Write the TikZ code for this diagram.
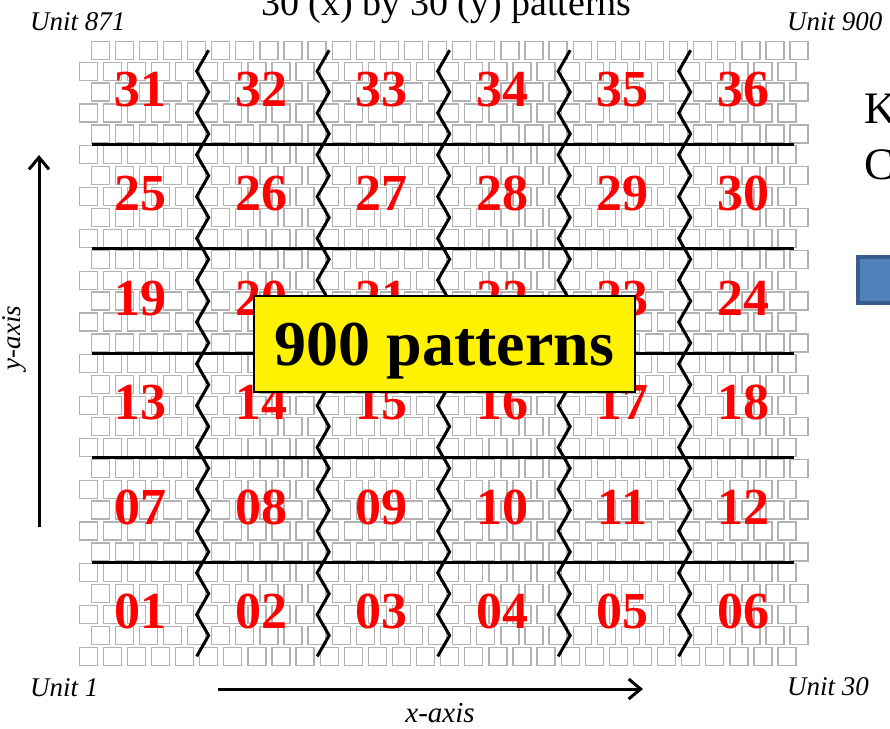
\documentclass[tikz,border=0pt]{standalone}
\usepackage{fontspec}
\setmainfont{Liberation Serif}
\usetikzlibrary{arrows.meta,positioning}
\definecolor{bluefill}{HTML}{4F81BD}
\definecolor{blueedge}{HTML}{385D8A}

\begin{document}
\begin{tikzpicture}[x=1pt, y=-1pt,
    cell/.style={draw=black!30, line width=1.3pt},
    cut/.style={line width=3pt, line join=miter},
    axis/.style={line width=3pt, -{Straight Barb[length=12pt, width=20pt]}},
    blocknum/.style={text=red, font=\fontsize{52}{52}\selectfont\bfseries, inner sep=0pt},
    unit/.style={font=\fontsize{27}{27}\selectfont\itshape, inner sep=0pt, anchor=base west},
    bigtext/.style={font=\fontsize{#1}{#1}\selectfont, inner sep=0pt, anchor=base west},
    total/.style={draw, line width=2pt, fill=yellow, minimum width=381pt, minimum height=96pt,
        text height=44pt, text depth=0pt, font=\fontsize{64}{64}\selectfont\bfseries}]
    \path[fill=white, use as bounding box] (0,0) rectangle (890,728);

    % 30 x 30 staggered patterns
    \foreach \r in {1,...,30} {
        \pgfmathsetmacro{\cy}{656.4-(\r-1)*20.9}
        \pgfmathsetmacro{\sh}{ifthenelse(mod(\r,2)==0,12,0)}
        \foreach \c in {1,...,30} {
            \pgfmathsetmacro{\cx}{88.2+(\c-1)*24.1+\sh}
            \draw[cell] (\cx-9,\cy-9) rectangle ++(18,18);
        }
    }

    % block borders
    \foreach \m in {1,...,5}
        \draw[cut] (92,{656.4-(5*\m-0.5)*20.9}) -- (794,{656.4-(5*\m-0.5)*20.9});
    \foreach \k in {1,...,5}
        \draw[cut] ({100.25+(5*\k-1)*24.1+12},50.2)
            \foreach \r in {29,...,1} { -- ({100.25+(5*\k-1)*24.1+12*(1-mod(\r,2))},{656.4-(\r-1)*20.9}) };

    % block numbers
    \foreach \j in {1,...,6}
        \foreach \k in {1,...,6} {
            \pgfmathtruncatemacro{\n}{(\j-1)*6+\k}
            \node[blocknum] (b\n) at ({140.5+(\k-1)*120.5},{656.4-(5*\j-3)*20.9-3}) {\ifnum\n<10 0\fi\n};
        }

    \node[total] (total) at (444.5,343.7) {900 patterns};

    % labels
    \node[bigtext=38, anchor=base] (title) at (446.5,15) {30 (x) by 30 (y) patterns};
    \node[unit] (u871) at (30,30) {Unit 871};
    \node[unit] (u900) at (787,30) {Unit 900};
    \node[unit] (u1) at (30,696) {Unit 1};
    \node[unit] (u30) at (787,695) {Unit 30};

    % axes
    \coordinate (ybot) at (39,527);
    \coordinate (ytop) at (39,155);
    \coordinate (xleft) at (218,689);
    \coordinate (xright) at (643,689);
    \draw[axis] (ybot) -- (ytop);
    \draw[axis] (xleft) -- (xright);
    \node[font=\fontsize{27}{27}\selectfont\itshape, rotate=90, inner sep=0pt] (ylab) at (14,338) {y-axis};
    \node[font=\fontsize{29}{29}\selectfont\itshape, anchor=base, inner sep=0pt] (xlab) at (440,722) {x-axis};

    % right side, cut off
    \node[bigtext=45] (keyk) at (864,123) {K};
    \node[bigtext=45] (keyc) at (864,179) {C};
    \draw[line width=4pt, draw=blueedge, fill=bluefill] (858,257) rectangle (912,303);
\end{tikzpicture}
\end{document}
